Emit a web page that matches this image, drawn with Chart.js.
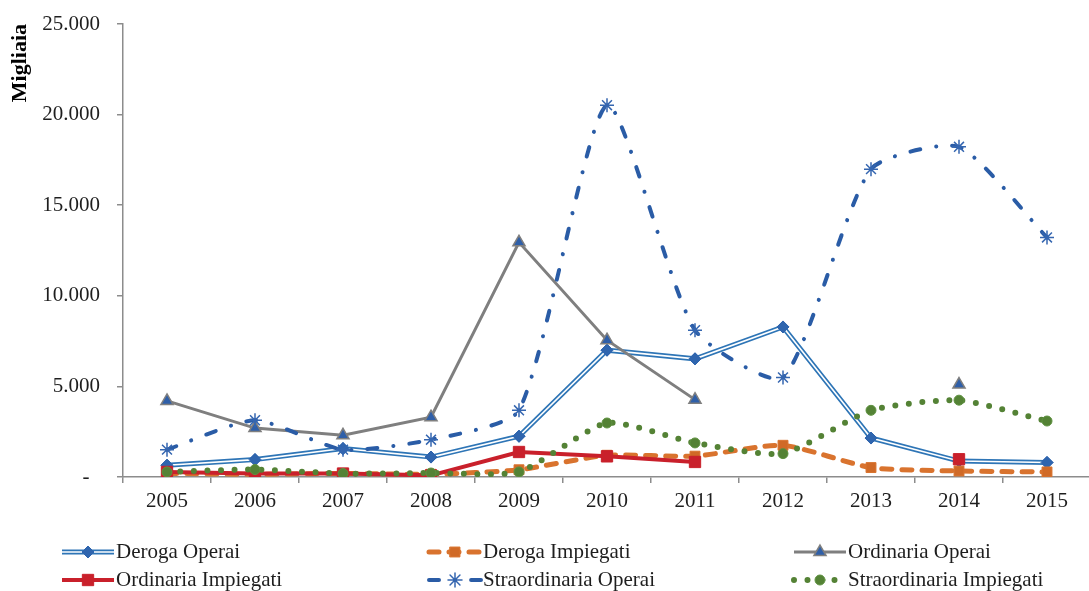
<!DOCTYPE html>
<html>
<head>
<meta charset="utf-8">
<script src="https://cdn.jsdelivr.net/npm/chart.js@4/dist/chart.umd.min.js"></script>
<style>
  html, body { margin: 0; padding: 0; background: #fff; overflow: hidden; }
  #wrap { width: 1089px; height: 591px; overflow: hidden; position: relative; }
  #box { width: 1100px; height: 591px; position: absolute; left: 0; top: 0; }
</style>
</head>
<body>
<div id="wrap"><div id="box"><canvas id="c"></canvas></div></div>
<script>
// Cassa integrazione: ore autorizzate (migliaia) per tipologia
const years = ['2005', '2006', '2007', '2008', '2009', '2010', '2011', '2012', '2013', '2014', '2015'];
const derogaOperai = [650, 960, 1570, 1100, 2250, 7000, 6520, 8280, 2150, 880, 800];
const derogaImpiegati = [200, 150, 200, 150, 400, 1200, 1150, 1750, 520, 330, 280];
const ordinariaOperai = [4200, 2700, 2300, 3300, 12950, 7550, 4270, null, null, 5100, null];
const ordinariaImpiegati = [280, 190, 190, 90, 1380, 1140, 830, null, null, 980, null];
const straordinariaOperai = [1510, 3130, 1510, 2060, 3680, 20520, 8100, 5490, 16990, 18220, 13220];
const straordinariaImpiegati = [280, 410, 190, 220, 280, 2980, 1880, 1290, 3680, 4240, 3090];
const yTickValues = [0, 5000, 10000, 15000, 20000, 25000];

const serif = "'Liberation Serif', 'DejaVu Serif', serif";
const axisGray = '#8C8C8C';
const textColor = '#1E1E1E';
const fontSize = 21;

function fmtThousands(v) {
  if (v === 0) return '-  ';
  return String(v).replace(/\B(?=(\d{3})+(?!\d))/g, '.');
}

// Second, thin white stroke through the points gives the double-line look
const doubleLinePlugin = {
  id: 'doubleLine',
  afterDatasetDraw(chart, args) {
    const ds = chart.data.datasets[args.index];
    if (!ds.innerStroke) return;
    const ctx = chart.ctx;
    const pts = args.meta.data;
    ctx.save();
    ctx.strokeStyle = ds.innerStroke;
    ctx.lineWidth = ds.innerWidth;
    ctx.lineJoin = 'miter';
    ctx.beginPath();
    let started = false;
    pts.forEach((p, i) => {
      if (ds.data[i] == null) { started = false; return; }
      if (!started) { ctx.moveTo(p.x, p.y); started = true; } else { ctx.lineTo(p.x, p.y); }
    });
    ctx.stroke();
    ctx.restore();
    pts.forEach(p => p.draw(ctx, chart.chartArea));
  }
};

// Legend laid out in three fixed columns under the axis
const columnLegendPlugin = {
  id: 'columnLegend',
  afterDraw(chart) {
    const ctx = chart.ctx;
    const colX = [62, 429, 794];
    const rowY = [552, 580];
    const sampleLen = 52;
    chart.data.datasets.forEach((ds, i) => {
      const x0 = colX[i % 3];
      const y = rowY[Math.floor(i / 3)];
      ctx.save();
      ctx.strokeStyle = ds.borderColor;
      ctx.lineWidth = ds.borderWidth;
      ctx.lineCap = ds.borderCapStyle || 'butt';
      ctx.setLineDash(ds.borderDash || []);
      ctx.beginPath();
      ctx.moveTo(x0, y);
      ctx.lineTo(x0 + sampleLen, y);
      ctx.stroke();
      if (ds.innerStroke) {
        ctx.strokeStyle = ds.innerStroke;
        ctx.lineWidth = ds.innerWidth;
        ctx.beginPath();
        ctx.moveTo(x0, y);
        ctx.lineTo(x0 + sampleLen, y);
        ctx.stroke();
      }
      ctx.setLineDash([]);
      ctx.fillStyle = ds.pointBackgroundColor || ds.borderColor;
      ctx.strokeStyle = ds.pointBorderColor || ds.borderColor;
      ctx.lineWidth = ds.pointBorderWidth || 1;
      Chart.helpers.drawPoint(ctx, {
        pointStyle: ds.pointStyle, rotation: 0,
        radius: ds.pointRadius, borderWidth: ds.pointBorderWidth || 1
      }, x0 + sampleLen / 2, y);
      ctx.fillStyle = textColor;
      ctx.font = fontSize + 'px ' + serif;
      ctx.textBaseline = 'middle';
      ctx.textAlign = 'left';
      ctx.fillText(ds.label, x0 + sampleLen + 2, y);
      ctx.restore();
    });
  }
};

new Chart(document.getElementById('c'), {
  type: 'line',
  data: {
    labels: years,
    datasets: [
      {
        label: 'Deroga Operai', data: derogaOperai,
        borderColor: '#2E75B6', borderWidth: 5, tension: 0,
        innerStroke: '#FFFFFF', innerWidth: 1.6,
        pointStyle: 'rectRot', pointRadius: 6,
        pointBackgroundColor: '#2F65AE', pointBorderColor: '#2F65AE', pointBorderWidth: 1,
        order: 6
      },
      {
        label: 'Deroga Impiegati', data: derogaImpiegati,
        borderColor: '#D9732E', borderWidth: 5, borderDash: [10, 10], borderCapStyle: 'round', tension: 0.2,
        pointStyle: 'rect', pointRadius: 7,
        pointBackgroundColor: '#D06A27', pointBorderColor: '#D9732E', pointBorderWidth: 1,
        order: 5
      },
      {
        label: 'Ordinaria Operai', data: ordinariaOperai,
        borderColor: '#7F7F7F', borderWidth: 3, tension: 0,
        pointStyle: 'triangle', pointRadius: 7,
        pointBackgroundColor: '#2F5FA8', pointBorderColor: '#7F7F7F', pointBorderWidth: 1.5,
        order: 4
      },
      {
        label: 'Ordinaria Impiegati', data: ordinariaImpiegati,
        borderColor: '#C9202B', borderWidth: 4, tension: 0,
        pointStyle: 'rect', pointRadius: 8,
        pointBackgroundColor: '#C9202B', pointBorderColor: '#C9202B', pointBorderWidth: 1,
        order: 3
      },
      {
        label: 'Straordinaria Operai', data: straordinariaOperai,
        borderColor: '#2A5CA6', borderWidth: 4, borderDash: [10, 16, 0.1, 16], borderCapStyle: 'round', tension: 0.2,
        pointStyle: 'star', pointRadius: 7,
        pointBackgroundColor: '#3566B0', pointBorderColor: '#3566B0', pointBorderWidth: 1.5,
        order: 2
      },
      {
        label: 'Straordinaria Impiegati', data: straordinariaImpiegati,
        borderColor: '#548235', borderWidth: 6, borderDash: [0, 13.5], borderCapStyle: 'round', tension: 0.2,
        pointStyle: 'circle', pointRadius: 5,
        pointBackgroundColor: '#548235', pointBorderColor: '#5E9140', pointBorderWidth: 1,
        order: 1
      }
    ]
  },
  options: {
    responsive: true,
    maintainAspectRatio: false,
    animation: false,
    spanGaps: false,
    layout: { padding: { left: 0, right: 4, top: 24, bottom: 74 } },
    plugins: { legend: { display: false }, tooltip: { enabled: false }, title: { display: false } },
    scales: {
      x: {
        offset: true,
        border: { color: axisGray, width: 1.5 },
        grid: { offset: true, display: true, drawOnChartArea: false, drawTicks: true, tickLength: 6, color: axisGray, lineWidth: 1.5 },
        ticks: { font: { family: serif, size: fontSize }, color: textColor, padding: 6, maxRotation: 0, autoSkip: false },
        afterFit(s) { s.height = 40; s.paddingLeft = 0; s.paddingRight = 0; }
      },
      y: {
        min: 0, max: 25000,
        afterBuildTicks(s) { s.ticks = yTickValues.map(v => ({ value: v })); },
        border: { color: axisGray, width: 1.5 },
        grid: { display: true, drawOnChartArea: false, drawTicks: true, tickLength: 6, color: axisGray, lineWidth: 1.5 },
        ticks: { font: { family: serif, size: fontSize }, color: textColor, padding: 17, callback: v => fmtThousands(v) },
        title: {
          display: true, text: 'Migliaia', align: 'end', color: '#000',
          font: { family: serif, size: 22, weight: 'bold' }, padding: { top: 7, bottom: 0 }
        },
        afterFit(s) { s.width = 123; s.paddingTop = 0; s.paddingBottom = 0; }
      }
    }
  },
  plugins: [doubleLinePlugin, columnLegendPlugin]
});
</script>
</body>
</html>
